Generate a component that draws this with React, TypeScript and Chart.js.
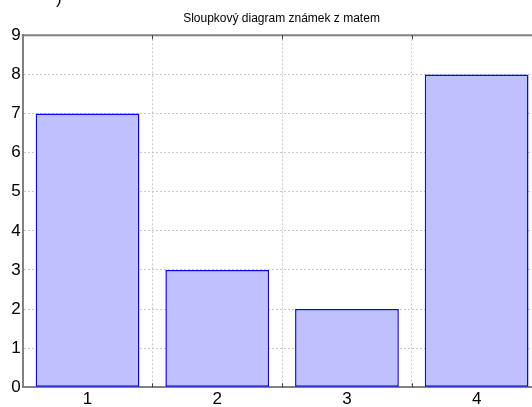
import React, { useEffect, useRef } from "react";
import { Chart, registerables } from "chart.js";

Chart.register(...registerables);

const categories = ["1", "2", "3", "4"];
const values = [7, 3, 2, 8];
const yTicks = [0, 1, 2, 3, 4, 5, 6, 7, 8, 9];
const titleText = "Sloupkový diagram známek z matem";

const AXIS = "#808080";

const framePlugin = {
  id: "frame",
  afterDraw(chart: any) {
    const { ctx, chartArea } = chart;
    const xs = chart.scales.x;
    ctx.save();
    // top axis line
    ctx.strokeStyle = AXIS;
    ctx.lineWidth = 2;
    ctx.beginPath();
    ctx.moveTo(chartArea.left - 1, chartArea.top);
    ctx.lineTo(chartArea.right, chartArea.top);
    ctx.stroke();
    // small inward ticks between categories
    ctx.strokeStyle = "#404040";
    ctx.lineWidth = 1;
    for (let i = 0; i < categories.length - 1; i++) {
      const px = Math.round((xs.getPixelForValue(i) + xs.getPixelForValue(i + 1)) / 2) + 0.5;
      ctx.beginPath();
      ctx.moveTo(px, chartArea.bottom);
      ctx.lineTo(px, chartArea.bottom - 4);
      ctx.moveTo(px, chartArea.top);
      ctx.lineTo(px, chartArea.top + 4);
      ctx.stroke();
    }
    // title
    ctx.fillStyle = "#000";
    ctx.font = "12px 'Liberation Sans', Arial, sans-serif";
    ctx.textAlign = "center";
    ctx.textBaseline = "alphabetic";
    ctx.fillText(titleText, 281.5, 22);
    // fragment of preceding caption
    ctx.font = "17px 'Liberation Sans', Arial, sans-serif";
    ctx.textAlign = "left";
    ctx.fillText(")", 56, 4);
    ctx.restore();
  },
};

export default function App() {
  const ref = useRef<HTMLCanvasElement | null>(null);
  useEffect(() => {
    if (!ref.current) return;
    const font = { family: "'Liberation Sans', Arial, sans-serif", size: 17 };
    const chart = new Chart(ref.current, {
      type: "bar",
      data: {
        labels: categories,
        datasets: [
          {
            data: values,
            backgroundColor: "#c0c0ff",
            borderColor: "#0000ff",
            borderWidth: 1.5,
            borderSkipped: false,
            barPercentage: 0.8,
            categoryPercentage: 1,
          },
        ],
      },
      options: {
        responsive: false,
        animation: false,
        layout: { padding: { top: 35.3, right: 3.5, left: 0, bottom: 0 } },
        plugins: {
          legend: { display: false },
          title: { display: false },
          tooltip: { enabled: false },
        },
        scales: {
          x: {
            afterFit: (s: any) => {
              s.height = 19.7;
            },
            grid: {
              offset: true,
              color: "#c8c8c8",
              lineWidth: 1,
              drawTicks: false,
            },
            border: { display: true, color: AXIS, width: 2, dash: [2, 2] },
            ticks: { font, color: "#000", padding: 2 },
          },
          y: {
            min: yTicks[0],
            max: yTicks[yTicks.length - 1],
            afterFit: (s: any) => {
              s.width = 22.7;
            },
            afterBuildTicks: (s: any) => {
              s.ticks = yTicks.map((v) => ({ value: v }));
            },
            grid: { color: "#c8c8c8", lineWidth: 1, drawTicks: false },
            border: { display: true, color: AXIS, width: 2, dash: [2, 2] },
            ticks: { font, color: "#000", padding: 2 },
          },
        },
      } as any,
      plugins: [framePlugin],
    });
    return () => chart.destroy();
  }, []);
  return (
    <div
      style={{
        position: "fixed",
        left: 0,
        top: 0,
        width: 532,
        height: 407,
        overflow: "hidden",
        background: "#fff",
      }}
    >
      <canvas ref={ref} width={545} height={407} style={{ display: "block" }} />
    </div>
  );
}
